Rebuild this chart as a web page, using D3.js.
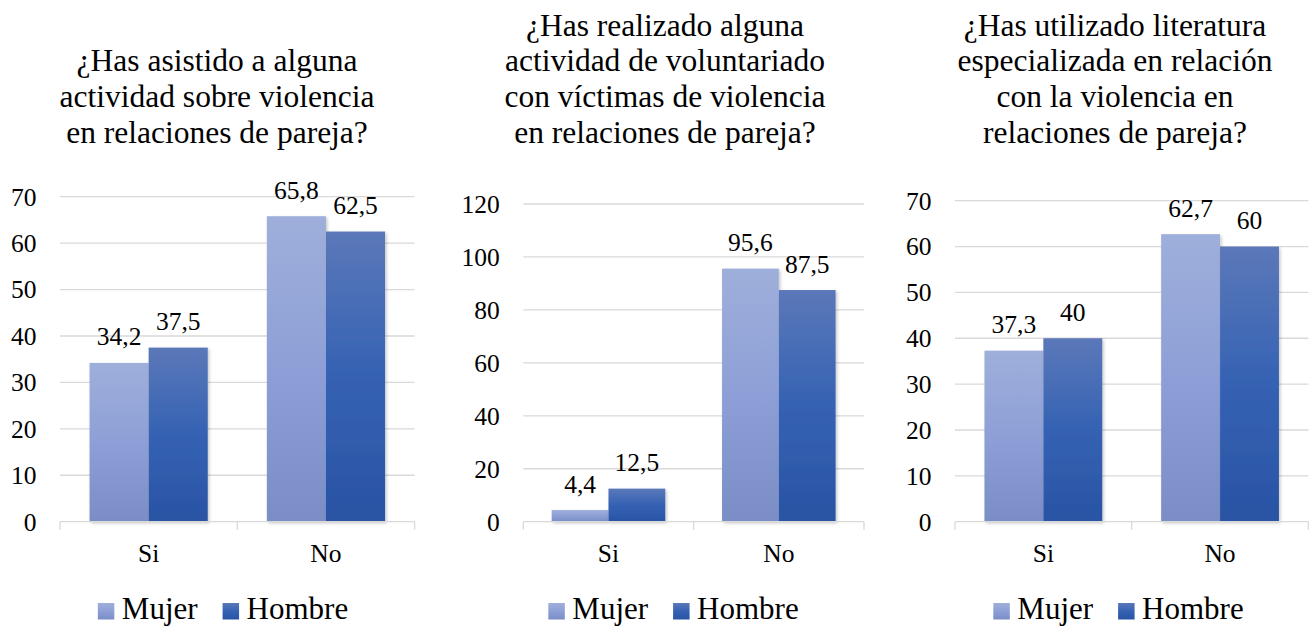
<!DOCTYPE html>
<html>
<head>
<meta charset="utf-8">
<script src="https://cdn.jsdelivr.net/npm/d3@7"></script>
<style>
  html, body { margin: 0; padding: 0; background: #fff; }
  svg { display: block; }
  svg text { font-family: "Liberation Serif", "Times New Roman", "DejaVu Serif", serif; fill: #000; }
</style>
</head>
<body>
<svg id="chart" width="1309" height="628"></svg>
<script>
// ---- Data ----
const categories = ["Si", "No"];
const seriesNames = ["Mujer", "Hombre"];

const title1 = ["¿Has asistido a alguna", "actividad sobre violencia", "en relaciones de pareja?"];
const title2 = ["¿Has realizado alguna", "actividad de voluntariado", "con víctimas de violencia", "en relaciones de pareja?"];
const title3 = ["¿Has utilizado literatura", "especializada en relación", "con la violencia en", "relaciones de pareja?"];

const mujer1 = [34.2, 65.8];
const hombre1 = [37.5, 62.5];
const mujer2 = [4.4, 95.6];
const hombre2 = [12.5, 87.5];
const mujer3 = [37.3, 62.7];
const hombre3 = [40, 60];

const yTicks1 = [0, 10, 20, 30, 40, 50, 60, 70];
const yTicks2 = [0, 20, 40, 60, 80, 100, 120];
const yTicks3 = [0, 10, 20, 30, 40, 50, 60, 70];

const labelFmt = v => String(v).replace(".", ",");

// ---- Layout ----
const FONT = "'Liberation Serif', 'Times New Roman', serif";
const panels = [
  { title: title1, mujer: mujer1, hombre: hombre1, ticks: yTicks1, x0: 60, x1: 414.6, yTop: 196.7, titleCx: 217, legendCx: 223 },
  { title: title2, mujer: mujer2, hombre: hombre2, ticks: yTicks2, x0: 523.3, x1: 864, yTop: 204, titleCx: 665, legendCx: 673.5 },
  { title: title3, mujer: mujer3, hombre: hombre3, ticks: yTicks3, x0: 955, x1: 1308.4, yTop: 200.7, titleCx: 1115, legendCx: 1118.5 }
];
const yBase = 521.7;
const gridColor = "#d9d9d9";

const svg = d3.select("#chart");
const defs = svg.append("defs");

function addGrad(id, stops) {
  const g = defs.append("linearGradient").attr("id", id)
    .attr("x1", 0).attr("y1", 0).attr("x2", 0).attr("y2", 1);
  stops.forEach(s => g.append("stop").attr("offset", s[0]).attr("stop-color", s[1]));
}
addGrad("gMujer", [[0, "#9fafdb"], [0.5, "#8d9fd6"], [1, "#7a8dc5"]]);
addGrad("gHombre", [[0, "#5b78b9"], [0.5, "#3562b3"], [1, "#2a53a4"]]);
const fills = { Mujer: "url(#gMujer)", Hombre: "url(#gHombre)" };

const shadow = defs.append("filter").attr("id", "shadow")
  .attr("x", "-10%").attr("y", "-10%").attr("width", "130%").attr("height", "130%");
shadow.append("feDropShadow").attr("dx", 1.5).attr("dy", 1.5).attr("stdDeviation", 1.5)
  .attr("flood-color", "#000").attr("flood-opacity", 0.22);

panels.forEach(p => {
  const g = svg.append("g").attr("font-family", FONT);
  const y = d3.scaleLinear().domain([0, d3.max(p.ticks)]).range([yBase, p.yTop]);
  const x = d3.scaleBand().domain(categories).range([p.x0, p.x1]).paddingInner(0).paddingOuter(0);
  const bw = x.bandwidth();
  const xs = d3.scaleBand().domain(seriesNames).range([bw / 6, bw * 5 / 6]).padding(0);

  // gridlines
  g.selectAll("line.grid").data(p.ticks.filter(t => t !== 0)).join("line")
    .attr("x1", p.x0).attr("x2", p.x1)
    .attr("y1", d => y(d)).attr("y2", d => y(d))
    .attr("stroke", gridColor).attr("stroke-width", 1.3);

  // y tick labels
  g.selectAll("text.ytick").data(p.ticks).join("text")
    .attr("font-family", FONT)
    .attr("x", p.x0 - 23.5).attr("y", d => y(d)).attr("dy", "0.35em")
    .attr("text-anchor", "end").attr("font-size", "25.5px").text(d => d);

  // bars
  const rows = categories.map((c, i) => ({ cat: c, Mujer: p.mujer[i], Hombre: p.hombre[i] }));
  const groups = g.selectAll("g.cat").data(rows).join("g")
    .attr("transform", d => `translate(${x(d.cat)},0)`);
  groups.selectAll("rect").data(d => seriesNames.map(s => ({ s, v: d[s] }))).join("rect")
    .attr("x", d => xs(d.s)).attr("width", xs.bandwidth())
    .attr("y", d => y(d.v)).attr("height", d => yBase - y(d.v))
    .attr("fill", d => fills[d.s]).attr("filter", "url(#shadow)");
  groups.selectAll("text.val").data(d => seriesNames.map(s => ({ s, v: d[s] }))).join("text")
    .attr("class", "val").attr("font-family", FONT)
    .attr("x", d => xs(d.s) + xs.bandwidth() / 2).attr("y", d => y(d.v) - 17.5)
    .attr("text-anchor", "middle").attr("font-size", "25.5px").text(d => labelFmt(d.v));

  // x axis line + ticks
  g.append("line").attr("x1", p.x0).attr("x2", p.x1).attr("y1", yBase).attr("y2", yBase)
    .attr("stroke", gridColor).attr("stroke-width", 1.3);
  const bounds = [p.x0, ...categories.map(c => x(c) + bw)];
  g.selectAll("line.xt").data(bounds).join("line")
    .attr("x1", d => d).attr("x2", d => d).attr("y1", yBase).attr("y2", yBase + 8)
    .attr("stroke", gridColor).attr("stroke-width", 1.3);
  g.selectAll("text.cat").data(categories).join("text")
    .attr("font-family", FONT)
    .attr("x", d => x(d) + bw / 2).attr("y", 561.7)
    .attr("text-anchor", "middle").attr("font-size", "25.5px").text(d => d);

  // title
  const n = p.title.length;
  g.selectAll("text.title").data(p.title).join("text")
    .attr("font-family", FONT)
    .attr("x", p.titleCx).attr("y", (d, i) => 143 - (n - 1 - i) * 35.8)
    .attr("text-anchor", "middle").attr("font-size", "31.5px").text(d => d);

  // legend
  const lg = g.append("g");
  const sq = 16.5, gapT = 7.5, gapS = 25;
  let cx = 0;
  seriesNames.forEach((s) => {
    const it = lg.append("g");
    it.append("rect").attr("x", cx).attr("y", 603).attr("width", sq).attr("height", sq).attr("fill", fills[s]);
    const t = it.append("text").attr("font-family", FONT)
      .attr("x", cx + sq + gapT).attr("y", 619.3).attr("font-size", "31px").text(s);
    cx += sq + gapT + t.node().getComputedTextLength() + gapS;
  });
  const totalW = cx - gapS;
  lg.attr("transform", `translate(${p.legendCx - totalW / 2},0)`);
});
</script>
</body>
</html>
